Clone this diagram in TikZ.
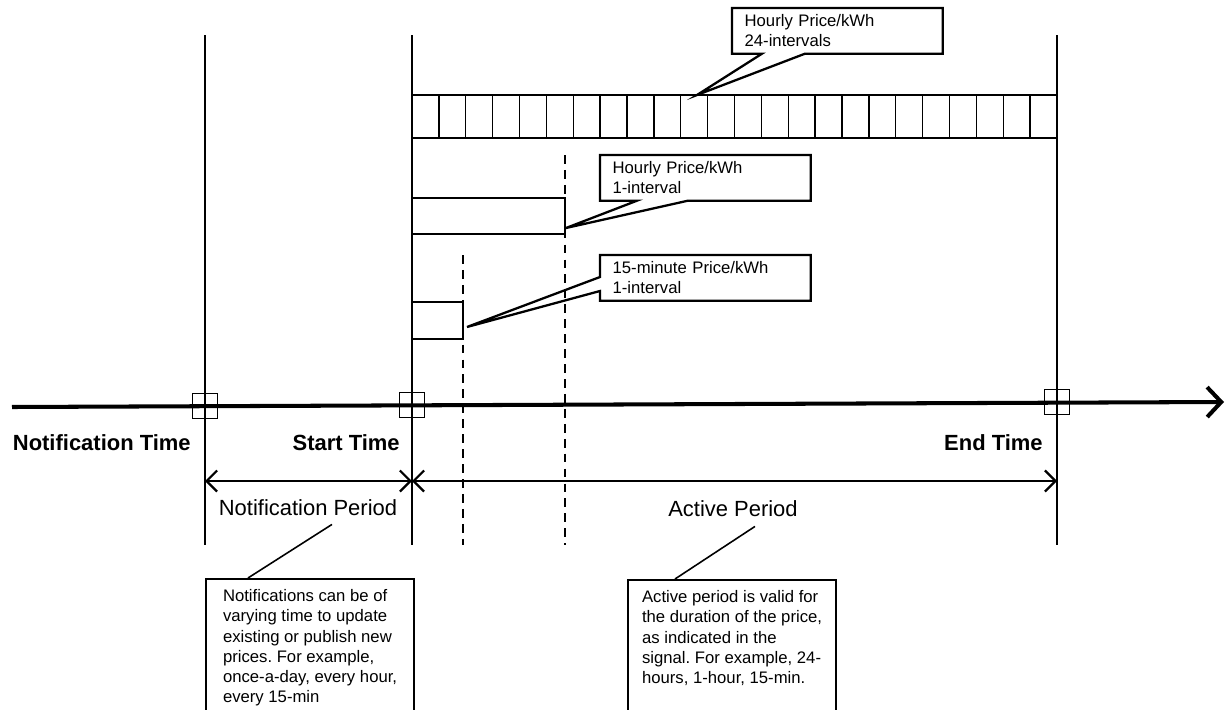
\documentclass[tikz,border=0pt]{standalone}
\usepackage{fontspec}
\setmainfont{Liberation Sans}
\frenchspacing
\usetikzlibrary{arrows.meta,calc}

\begin{document}
\begin{tikzpicture}[x=0.02cm,y=-0.02cm,
	bar/.style={line width=0.7pt},
	cell/.style={line width=0.8pt},
	guide/.style={line width=0.8pt,dash pattern=on 5pt off 3.5pt},
	timeline/.style={line width=2.3pt,-{Straight Barb[length=8pt,width=17pt]}},
	period/.style={line width=1.3pt,{Straight Barb[length=6pt,width=12pt]}-{Straight Barb[length=6pt,width=12pt]}},
	marker/.style={draw,line width=0.9pt,minimum size=14.2pt,inner sep=0pt},
	calloutbox/.style={anchor=north west,align=left,text width=105.5pt,minimum height=25.6pt,inner xsep=7pt,inner ysep=0pt,font=\fontsize{9.5}{11.5}\selectfont},
	calloutline/.style={line width=1.3pt,line join=miter},
	notebox/.style={draw,line width=1.1pt,anchor=north west,align=left,minimum width=118.5pt,inner xsep=4pt,inner ysep=6pt,text depth=75pt,font=\fontsize{9.5}{11.5}\selectfont},
	timelabel/.style={font=\fontsize{12.5}{15}\selectfont\bfseries,inner sep=0pt,anchor=east},
	periodlabel/.style={font=\fontsize{12.5}{15}\selectfont,inner sep=0pt},
	leader/.style={line width=0.9pt}]
	\useasboundingbox (0,0) rectangle (1225,710);

	\coordinate (ntop) at (205,35);
	\coordinate (nbot) at (205,545);
	\coordinate (stop) at (412,35);
	\coordinate (sbot) at (412,545);
	\coordinate (etop) at (1057,35);
	\coordinate (ebot) at (1057,545);
	\coordinate (dimy) at (0,481);

	\draw[bar] (ntop) -- (nbot);
	\draw[bar] (stop) -- (sbot);
	\draw[bar] (etop) -- (ebot);

	\draw[guide] (565,155) -- (565,545);
	\draw[guide] (463,255) -- (463,545);

	\draw[cell] (412,95) rectangle (1057,138);
	\foreach \i in {1,...,23}
		\draw[cell] ({412+\i*645/24},95) -- ++(0,43);
	\draw[cell] (412,198) rectangle (565,234);
	\draw[cell] (412,302) rectangle (463,339);

	\coordinate (tstart) at (12,407);
	\coordinate (tend) at (1224,402);
	\draw[timeline] (tstart) -- (tend);
	\node[marker] (nmark) at (205,406) {};
	\node[marker] (smark) at (412,405) {};
	\node[marker] (emark) at (1057,402) {};

	\node[timelabel] (ntime) at (191,443) {Notification Time};
	\node[timelabel] (stime) at (400,443) {Start Time};
	\node[timelabel] (etime) at (1043,443) {End Time};

	\draw[period] (ntop |- dimy) -- (stop |- dimy);
	\draw[period] (stop |- dimy) -- (etop |- dimy);
	\node[periodlabel] (nper) at (308,508) {Notification Period};
	\node[periodlabel] (aper) at (733,509) {Active Period};

	\node[notebox] (nnote) at (205,578) {Notifications can be of\\varying time to update\\existing or publish new\\prices. For example,\\once-a-day, every hour,\\every 15-min};
	\node[notebox] (anote) at (627,579) {Active period is valid for\\the duration of the price,\\as indicated in the\\signal. For example, 24-\\hours, 1-hour, 15-min.};
	\draw[leader] ($(nper.south)+(24,8)$) -- ($(nnote.north west)+(43,0)$);
	\draw[leader] ($(aper.south)+(22,9)$) -- ($(anote.north west)+(48,0)$);

	\node[calloutbox] (hc24) at (732,8) {Hourly Price/kWh\\24-intervals};
	\coordinate (hc24tip) at (697,95);
	\draw[calloutline] (hc24.south west) -- ($(hc24.south west)+(30,0)$) -- (hc24tip)
		-- ($(hc24.south west)+(73,0)$) -- (hc24.south east) -- (hc24.north east) -- (hc24.north west) -- cycle;

	\node[calloutbox] (hc1) at (600,155) {Hourly Price/kWh\\1-interval};
	\coordinate (hc1tip) at (566,228);
	\draw[calloutline] (hc1.south west) -- ($(hc1.south west)+(37,0)$) -- (hc1tip)
		-- ($(hc1.south west)+(88,0)$) -- (hc1.south east) -- (hc1.north east) -- (hc1.north west) -- cycle;

	\node[calloutbox] (qc1) at (600,255) {15-minute Price/kWh\\1-interval};
	\coordinate (qc1tip) at (467,327);
	\draw[calloutline] (qc1.north west) -- (qc1.north east) -- (qc1.south east) -- (qc1.south west)
		-- ($(qc1.north west)+(0,36)$) -- (qc1tip) -- ($(qc1.north west)+(0,22)$) -- cycle;
\end{tikzpicture}
\end{document}
